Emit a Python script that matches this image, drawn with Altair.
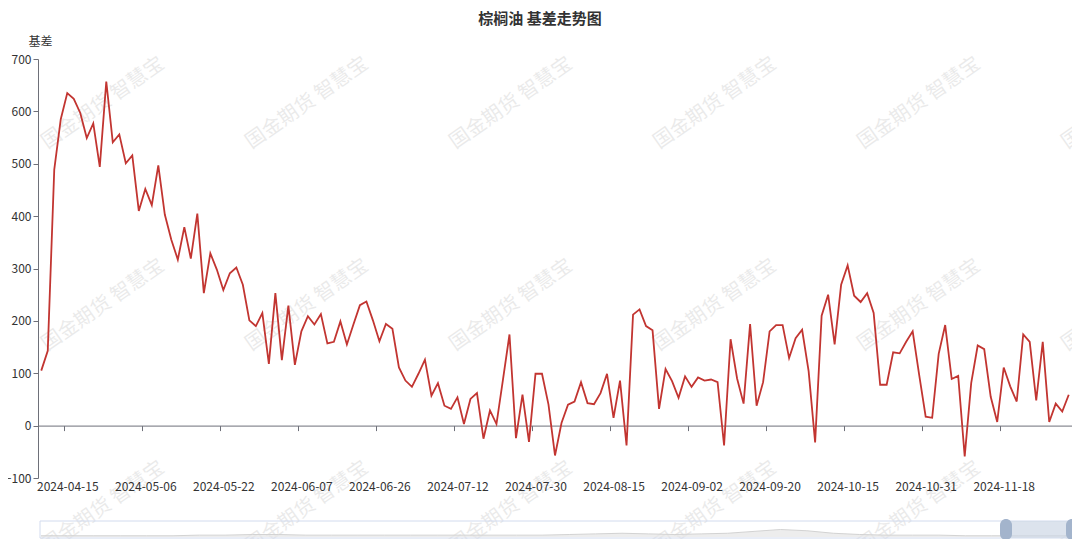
import altair as alt
import pandas as pd

# ---------------- data ----------------
HOLIDAYS = ["2024-05-01", "2024-05-02", "2024-05-03", "2024-06-10",
            "2024-09-16", "2024-09-17", "2024-10-01", "2024-10-02",
            "2024-10-03", "2024-10-04", "2024-10-07"]
dates = [d.strftime("%Y-%m-%d") for d in pd.bdate_range("2024-04-09", "2024-12-02")
         if d.strftime("%Y-%m-%d") not in HOLIDAYS]

basis = [
    105, 143, 489, 585, 635, 624, 597, 549, 577, 494, 657, 541, 556, 501, 516, 410,
    452, 421, 497, 403, 355, 317, 379, 319, 405, 253, 329, 298, 259, 291, 302, 269,
    201, 190, 215, 118, 253, 125, 229, 116, 180, 209, 193, 213, 157, 160, 199, 155,
    193, 230, 237, 201, 161, 194, 185, 111, 86, 74, 99, 126, 57, 81, 38, 32,
    54, 3, 51, 62, -25, 29, 3, 88, 174, -24, 59, -31, 99, 99, 40, -57,
    5, 40, 46, 83, 43, 41, 62, 99, 15, 86, -38, 212, 222, 190,
    182, 32, 108, 85, 53, 94, 74, 92, 86, 88, 83, -38, 165, 90, 42, 194,
    38, 83, 180, 192, 192, 129, 167, 183, 104, -32, 210, 250, 155, 269, 306, 248,
    236, 253, 215, 78, 78, 140, 138, 160, 180, 97, 17, 15, 137, 192, 89, 95,
    -59, 81, 153, 146, 55, 7, 111, 75, 46, 174, 160, 48, 160, 7, 42, 27, 59,
]

tick_dates = ["2024-04-15", "2024-05-06", "2024-05-22", "2024-06-07", "2024-06-26",
              "2024-07-12", "2024-07-30", "2024-08-15", "2024-09-02", "2024-09-20",
              "2024-10-15", "2024-10-31", "2024-11-18"]

y_ticks = [-100, 0, 100, 200, 300, 400, 500, 600, 700]

# overview (dataZoom shadow) – rough relative heights read from the slider
preview = [2, 2, 2, 2, 2, 2, 3, 3, 4, 4, 3, 3, 3, 3, 3, 3, 3, 3, 3, 3,
           4, 5, 6, 5, 4, 5, 6, 9, 12, 10, 6, 4, 3, 3, 3, 2, 2, 2, 2, 2]

df = pd.DataFrame({"date": dates[:len(basis)], "basis": basis})
prev_df = pd.DataFrame({"pi": list(range(len(preview))), "pv": preview})
one = pd.DataFrame({"a": [0]})

FONT = "Noto Sans CJK SC"
W, H = 1034, 419
AXIS_GRAY = "#6E7079"
LABEL_COLOR = "#333333"

# ---------------- watermark ----------------
WM_X = [65, 269, 473, 677, 881, 1085]
WM_Y = [44, 246, 448]
watermarks = []
for wy in WM_Y:
    for wx in WM_X:
        watermarks.append(
            alt.Chart(one).mark_text(
                text="国金期货 智慧宝", angle=325, fontSize=20, font=FONT,
                color="#000000", opacity=0.08, align="center", baseline="middle"
            ).encode(x=alt.value(wx), y=alt.value(wy))
        )

# ---------------- main line ----------------
line = alt.Chart(df).mark_line(color="#c23531", strokeWidth=1.8).encode(
    x=alt.X("date:O", sort=None,
            scale=alt.Scale(type="point", padding=0.5),
            axis=alt.Axis(values=tick_dates, title=None, labelAngle=0,
                          offset=-52.4, tickSize=5, tickOffset=-3.25,
                          labelOffset=3.25, labelPadding=51,
                          domainColor=AXIS_GRAY, tickColor=AXIS_GRAY,
                          labelColor=LABEL_COLOR, labelFontSize=12,
                          labelFont=FONT, labelOverlap=False, labelFlush=False,
                          grid=False)),
    y=alt.Y("basis:Q",
            scale=alt.Scale(domain=[-100, 700], nice=False, zero=False),
            axis=alt.Axis(values=y_ticks, grid=False, title="基差",
                          titleAngle=0, titleX=2, titleY=-18,
                          titleAlign="center", titleBaseline="middle",
                          titleFontWeight="normal", titleFontSize=12,
                          titleFont=FONT, titleColor=LABEL_COLOR,
                          tickSize=5, labelPadding=2,
                          domainColor=AXIS_GRAY, tickColor=AXIS_GRAY,
                          labelColor=LABEL_COLOR, labelFontSize=12,
                          labelFont=FONT)),
)

# ---------------- dataZoom slider ----------------
shadow = alt.Chart(prev_df).mark_area(
    color="#e6e6e6", line={"color": "#d3d3d3", "strokeWidth": 1}
).encode(
    x=alt.X("pi:Q", scale=alt.Scale(domain=[0, len(preview) - 1], range=[3, 1033]),
            axis=None),
    y=alt.Y("pv:Q", scale=alt.Scale(domain=[0, 24], range=[478, 463]), axis=None),
)

frame = alt.Chart(one).mark_rect(
    fillOpacity=0, stroke="#d2dbee", strokeWidth=1
).encode(x=alt.value(2), x2=alt.value(1034), y=alt.value(462), y2=alt.value(479))

window = alt.Chart(one).mark_rect(
    fill="#cdd7e6", fillOpacity=0.7
).encode(x=alt.value(968), x2=alt.value(1034), y=alt.value(462), y2=alt.value(479))

handles = [
    alt.Chart(one).mark_rect(fill="#a3b4cc", cornerRadius=6).encode(
        x=alt.value(hx - 6), x2=alt.value(hx + 6), y=alt.value(460), y2=alt.value(481))
    for hx in [968, 1034]
]

chart = alt.layer(
    *watermarks, shadow, frame, window, *handles, line
).resolve_scale(
    x="independent", y="independent"
).properties(
    width=W, height=H,
    autosize=alt.AutoSizeParams(type="none"),
    padding={"left": 30, "top": 51, "right": 0, "bottom": 61},
    title=alt.TitleParams("棕榈油 基差走势图", anchor="middle", fontSize=15,
                          fontWeight="bold", color="#333333", font=FONT,
                          dx=-15, offset=8),
).configure(
    font=FONT, view=alt.ViewConfig(strokeWidth=0, stroke=None)
)

chart.save("out.html", embed_options={"renderer": "svg", "actions": False})
